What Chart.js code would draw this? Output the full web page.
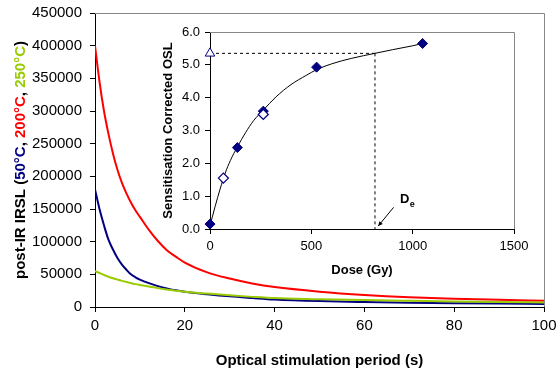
<!DOCTYPE html>
<html><head><meta charset="utf-8">
<script src="https://cdn.jsdelivr.net/npm/chart.js@4.4.0/dist/chart.umd.min.js"></script>
<style>
html,body{margin:0;padding:0;background:#fff;}
#wrap{position:relative;width:557px;height:372px;overflow:hidden;}
#main{position:absolute;left:0;top:0;}
#inset{position:absolute;left:150px;top:20px;}
</style></head><body>
<div id="wrap"><canvas id="main" width="557" height="372"></canvas><canvas id="inset" width="380" height="265"></canvas></div>
<script>
// ---- main chart data: post-IR IRSL decay curves ----
const time = [0,1,2,3,4,5,6,7,8,9,10,12,14,16,18,20,25,30,35,40,50,60,70,80,90,100];
const irsl50  = [180000,150000,125000,103000,88000,75000,65000,57000,50000,45500,42000,36500,32000,28500,25500,23300,19500,16300,13800,11500,9000,7600,6600,5800,5200,4700];
const irsl200 = [400000,345000,300000,265000,235000,210000,190000,174000,160000,148000,138000,118000,101000,87000,77000,68000,53000,43500,36000,30500,23500,18500,15000,12800,11000,9500];
const irsl250 = [55000,52000,49000,46400,44000,42000,40000,38200,36600,35000,33700,31300,28900,26900,25000,23400,20500,17800,15500,13600,12000,10600,9500,8500,7600,6800];
const mainXTicks = [0,20,40,60,80,100];
const mainYTicks = [0,50000,100000,150000,200000,250000,300000,350000,400000,450000];
const mainXTitle = 'Optical stimulation period (s)';
const mainYTitleParts = ['post-IR IRSL (', '50°C', ', ', '200°C', ', ', '250°C', ')'];

// ---- inset data: dose response ----
const fitDose   = [0,25,50,75,100,135,175,215,263,325,400,475,525,600,700,814,900,1000,1050];
const fitSignal = [0.1,0.68,1.22,1.7,2.08,2.5,2.93,3.3,3.62,4.02,4.4,4.68,4.85,5.03,5.2,5.35,5.46,5.58,5.65];
const regenDose   = [0,135,263,526,1049];
const regenSignal = [0.15,2.48,3.59,4.93,5.65];
const recycleDose   = [66,263];
const recycleSignal = [1.55,3.49];
const naturalDose = [0];
const naturalSignal = [5.35];
const deDose = 814;
const insetXTicks = [0,500,1000,1500];
const insetYTicks = [0,1,2,3,4,5,6];
const insetXTitle = 'Dose (Gy)';
const insetYTitle = 'Sensitisation Corrected OSL';
const deLabel = ['D','e'];

const NAVY='#000080', RED='#FF0000', GREEN='#99CC00';
const FONT='"Liberation Sans", Arial, Helvetica, sans-serif';
Chart.defaults.font.family = FONT;
Chart.defaults.color = '#000';

const pts = (xs, ys) => xs.map((x,i)=>({x:x, y:ys[i]}));

const frame = {
  id:'frame',
  beforeDatasetsDraw(chart){
    const {ctx, chartArea:a} = chart;
    ctx.save();
    ctx.strokeStyle='#888'; ctx.lineWidth=1;
    ctx.beginPath();
    ctx.moveTo(a.left, a.top+0.5); ctx.lineTo(a.right+0.5, a.top+0.5); ctx.lineTo(a.right+0.5, a.bottom);
    ctx.stroke();
    ctx.restore();
  }
};

const mainYTitle = {
  id:'mainYTitle',
  afterDraw(chart){
    const ctx = chart.ctx;
    const colors = ['#000', NAVY, '#000', RED, '#000', GREEN, '#000'];
    ctx.save();
    ctx.font = 'bold 15px ' + FONT;
    ctx.textBaseline = 'middle';
    ctx.textAlign = 'left';
    let total = 0;
    mainYTitleParts.forEach(t => total += ctx.measureText(t).width);
    const cy = (chart.chartArea.top + chart.chartArea.bottom)/2;
    ctx.translate(21, cy);
    ctx.rotate(-Math.PI/2);
    let x = -total/2;
    mainYTitleParts.forEach((t,i)=>{ ctx.fillStyle = colors[i]; ctx.fillText(t, x, 0); x += ctx.measureText(t).width; });
    ctx.restore();
  }
};

const axisGrid = (len) => ({display:true, drawOnChartArea:false, drawTicks:true, tickLength:len, color:'#000', lineWidth:1});
const fitX = (h) => (s) => { s.height = h; s.paddingLeft = 0; s.paddingRight = 0; };
const fitY = (w) => (s) => { s.width = w; s.paddingTop = 0; s.paddingBottom = 0; };

new Chart(document.getElementById('main'), {
  type:'scatter',
  data:{datasets:[
    {label:'250°C', data:pts(time, irsl250), showLine:true, borderColor:GREEN, borderWidth:2, pointRadius:0, cubicInterpolationMode:'monotone'},
    {label:'50°C',  data:pts(time, irsl50),  showLine:true, borderColor:NAVY,  borderWidth:2, pointRadius:0, cubicInterpolationMode:'monotone'},
    {label:'200°C', data:pts(time, irsl200), showLine:true, borderColor:RED,   borderWidth:2, pointRadius:0, cubicInterpolationMode:'monotone'}
  ]},
  options:{
    responsive:false, animation:false, devicePixelRatio:1,
    layout:{padding:{top:13, right:13, left:0, bottom:0}},
    plugins:{legend:{display:false}, tooltip:{enabled:false}},
    scales:{
      x:{type:'linear', min:0, max:100,
         afterBuildTicks: s => { s.ticks = mainXTicks.map(v=>({value:v})); },
         afterFit: fitX(65),
         ticks:{font:{size:15}, padding:5, color:'#000', maxRotation:0},
         grid:axisGrid(5), border:{display:true, color:'#000', width:1},
         title:{display:true, text:mainXTitle, font:{size:15, weight:'bold'}, padding:{top:0,bottom:2}, color:'#000'}},
      y:{type:'linear', min:0, max:450000,
         afterBuildTicks: s => { s.ticks = mainYTicks.map(v=>({value:v})); },
         afterFit: fitY(95),
         ticks:{font:{size:15}, padding:8, color:'#000', callback:v=>String(v)},
         grid:axisGrid(5), border:{display:true, color:'#000', width:1}}
    }
  },
  plugins:[frame, mainYTitle]
});

const deArrow = {
  id:'deArrow',
  afterDatasetsDraw(chart){
    const {ctx, scales:{x, y}} = chart;
    const tipX = x.getPixelForValue(deDose+16), tipY = y.getPixelForValue(0.09);
    const tailX = x.getPixelForValue(deDose+92), tailY = y.getPixelForValue(0.66);
    ctx.save();
    ctx.strokeStyle='#000'; ctx.fillStyle='#000'; ctx.lineWidth=1;
    ctx.beginPath(); ctx.moveTo(tailX, tailY); ctx.lineTo(tipX, tipY); ctx.stroke();
    const ang = Math.atan2(tipY-tailY, tipX-tailX);
    const L=5, W=0.45;
    ctx.beginPath();
    ctx.moveTo(tipX, tipY);
    ctx.lineTo(tipX - L*Math.cos(ang-W), tipY - L*Math.sin(ang-W));
    ctx.lineTo(tipX - L*Math.cos(ang+W), tipY - L*Math.sin(ang+W));
    ctx.closePath(); ctx.fill();
    ctx.font = 'bold 13px ' + FONT;
    ctx.textBaseline='alphabetic'; ctx.textAlign='left';
    const dx = x.getPixelForValue(deDose+123), dy = y.getPixelForValue(0.79);
    ctx.fillText(deLabel[0], dx, dy);
    const w = ctx.measureText(deLabel[0]).width;
    ctx.font = 'bold 9px ' + FONT;
    ctx.fillText(deLabel[1], dx + w + 0.5, dy + 3.5);
    ctx.restore();
  }
};

new Chart(document.getElementById('inset'), {
  type:'scatter',
  data:{datasets:[
    {label:'natural', data:pts(naturalDose, naturalSignal), pointStyle:'triangle', pointRadius:5.5, backgroundColor:'#fff', borderColor:NAVY, borderWidth:1, clip:false},
    {label:'recycle', data:pts(recycleDose, recycleSignal), pointStyle:'rectRot', pointRadius:5, backgroundColor:'#fff', borderColor:NAVY, borderWidth:1.3, clip:false},
    {label:'regen', data:pts(regenDose, regenSignal), pointStyle:'rectRot', pointRadius:5, backgroundColor:NAVY, borderColor:NAVY, borderWidth:1, clip:false},
    {label:'fit', data:pts(fitDose, fitSignal), showLine:true, borderColor:'#000', borderWidth:1, pointRadius:0, cubicInterpolationMode:'monotone'},
    {label:'Lnat', data:[{x:0, y:naturalSignal[0]},{x:deDose, y:naturalSignal[0]}], showLine:true, borderColor:'#000', borderWidth:1, borderDash:[3,3], pointRadius:0},
    {label:'De', data:[{x:deDose, y:naturalSignal[0]},{x:deDose, y:0}], showLine:true, borderColor:'#000', borderWidth:1, borderDash:[3,3], pointRadius:0}
  ]},
  options:{
    responsive:false, animation:false, devicePixelRatio:1,
    layout:{padding:{top:12, right:16, left:0, bottom:0}},
    plugins:{legend:{display:false}, tooltip:{enabled:false}},
    scales:{
      x:{type:'linear', min:0, max:1500,
         afterBuildTicks: s => { s.ticks = insetXTicks.map(v=>({value:v})); },
         afterFit: fitX(56),
         ticks:{font:{size:13}, padding:5, color:'#000', maxRotation:0, callback:v=>String(v)},
         grid:axisGrid(5), border:{display:true, color:'#000', width:1},
         title:{display:true, text:insetXTitle, font:{size:13, weight:'bold'}, padding:{top:0,bottom:7}, color:'#000'}},
      y:{type:'linear', min:0, max:6,
         afterBuildTicks: s => { s.ticks = insetYTicks.map(v=>({value:v})); },
         afterFit: fitY(60),
         ticks:{font:{size:13}, padding:5, color:'#000', callback:v=>Number(v).toFixed(1)},
         grid:axisGrid(5), border:{display:true, color:'#000', width:1},
         title:{display:true, text:insetYTitle, font:{size:13, weight:'bold'}, padding:{top:11,bottom:0}, color:'#000'}}
    }
  },
  plugins:[frame, deArrow]
});
</script>
</body></html>
